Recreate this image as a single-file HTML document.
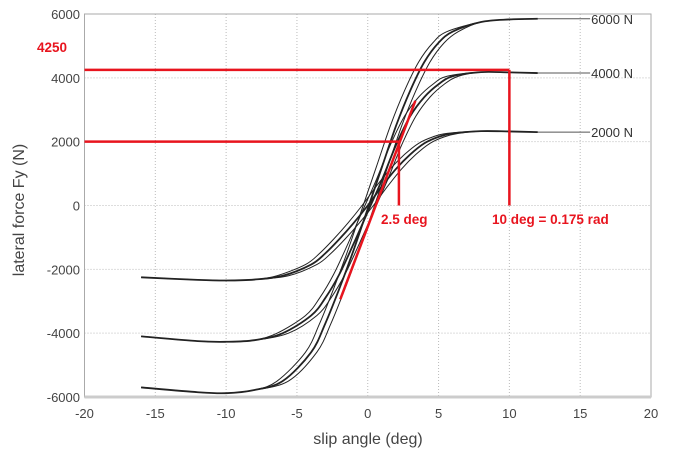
<!DOCTYPE html>
<html><head><meta charset="utf-8"><style>
body{margin:0;background:#fff;font-family:"Liberation Sans",Arial,sans-serif}
svg text{font-family:"Liberation Sans",Arial,sans-serif}
</style></head><body>
<svg id="chart" width="674" height="461" xmlns="http://www.w3.org/2000/svg"></svg>
<script>
const xTicks=[-20,-15,-10,-5,0,5,10,15,20];
const yTicks=[-6000,-4000,-2000,0,2000,4000,6000];
const slip=[-16,-12,-10,-8,-6,-4,-3,-2,-1,0,1,2,3,4,5,6,8,10,12];
const load2000=[-2250,-2330,-2350,-2320,-2200,-1850,-1500,-1050,-550,0,600,1150,1600,1950,2150,2260,2330,2320,2300];
const load4000=[-4100,-4250,-4270,-4220,-4000,-3450,-2900,-2150,-1200,-200,800,1900,2800,3400,3800,4050,4180,4170,4150];
const load6000=[-5700,-5850,-5880,-5780,-5500,-4600,-3700,-2600,-1400,-100,1200,2500,3600,4500,5100,5450,5750,5830,5850];
const seriesNames=['2000 N','4000 N','6000 N'];
const seriesData=[load2000,load4000,load6000];
const labelEnd=[15.7,15.7,15.7];
const peak=4250, knee=2000, kneeAngle=2.2, refAngle=10;
const slopeX=[-1.94,3.36], slopeY=[-2940,3280];

const NS='http://www.w3.org/2000/svg';
const svg=document.getElementById('chart');
const X0=84.5,X1=651,Y0=397,Y1=14;
const sx=v=>X0+(v+20)/40*(X1-X0);
const sy=v=>Y0-(v+6000)/12000*(Y0-Y1);
function mk(t,a,p){const e=document.createElementNS(NS,t);for(const k in a)e.setAttribute(k,a[k]);(p||svg).appendChild(e);return e;}

xTicks.forEach(t=>{
 const l=mk('line',{x1:sx(t),x2:sx(t),y1:Y1,y2:Y0,stroke:'#bbb','stroke-dasharray':'1,2','stroke-width':1});
 
 
 const tx=mk('text',{x:sx(t),y:418,'text-anchor':'middle','font-size':13,fill:'#444'});
 tx.textContent=t<0?'-'+Math.abs(t):t;
 
 
});
yTicks.forEach(t=>{
 const l=mk('line',{x1:X0,x2:X1,y1:sy(t),y2:sy(t),stroke:'#bbb','stroke-dasharray':'1,2','stroke-width':1});
 
 
 const tx=mk('text',{x:80,y:sy(t)+5,'text-anchor':'end','font-size':13,fill:'#444'});
 tx.textContent=t;
 
 
});
const frame=mk('rect',{x:X0,y:Y1,width:X1-X0,height:Y0-Y1,fill:'none',stroke:'#aaa','stroke-width':1});


const band=mk('line',{x1:X0,x2:X1,y1:Y0,y2:Y0,stroke:'#ccc','stroke-width':3});



function smooth(pts){
 let d='M'+pts[0][0]+','+pts[0][1];
 for(let i=0;i<pts.length-1;i++){
  const p0=pts[i-1]||pts[i],p1=pts[i],p2=pts[i+1],p3=pts[i+2]||p2;
  d+=' C'+(p1[0]+(p2[0]-p0[0])/6)+','+(p1[1]+(p2[1]-p0[1])/6)+' '+(p2[0]-(p3[0]-p1[0])/6)+','+(p2[1]-(p3[1]-p1[1])/6)+' '+p2[0]+','+p2[1];
 }
 return d;
}
seriesData.forEach((vals,si)=>{
 [-0.4,0,0.4].forEach((off,k)=>{
  const pts=slip.map((s,i)=>[sx(s+(Math.abs(s)<7?off:0)),sy(vals[i])]);
  const p=mk('path',{d:smooth(pts),fill:'none',stroke:'#222','stroke-width':k==1?1.8:1});
  
  
 });
 const last=vals[vals.length-1];
 const ext=mk('line',{x1:sx(slip[slip.length-1]),x2:sx(labelEnd[si]),y1:sy(last),y2:sy(last),stroke:'#555','stroke-width':1});
 
 
 const lb=mk('text',{x:sx(labelEnd[si])+1,y:sy(last)+5,'font-size':13,fill:'#333'});
 lb.textContent=seriesNames[si];
 
 
});

const red='#e8141e';
function rl(x1,y1,x2,y2,name){const l=mk('line',{x1,y1,x2,y2,stroke:red,'stroke-width':2.5});
 
 }
rl(sx(-20),sy(peak),sx(refAngle),sy(peak),'peak-force-line');
rl(sx(refAngle),sy(peak),sx(refAngle),sy(0),'ref-angle-line');
rl(sx(-20),sy(knee),sx(kneeAngle),sy(knee),'knee-force-line');
rl(sx(kneeAngle),sy(knee),sx(kneeAngle),sy(0),'knee-angle-line');
rl(sx(slopeX[0]),sy(slopeY[0]),sx(slopeX[1]),sy(slopeY[1]),'cornering-stiffness-line');
function rt(x,y,s,name){const t=mk('text',{x,y,'font-size':13.5,'font-weight':'bold',fill:red});t.textContent=s;
 
 }
rt(37,52,'4250','peak-value-label');
rt(381,224,'2.5 deg','knee-angle-label');
rt(492,224,'10 deg = 0.175 rad','ref-angle-label');

const xt=mk('text',{x:368,y:444,'text-anchor':'middle','font-size':16,fill:'#444'});
xt.textContent='slip angle (deg)';


const yt=mk('text',{x:0,y:0,'text-anchor':'middle','font-size':16,fill:'#444',transform:'translate(24,210) rotate(-90)'});
yt.textContent='lateral force Fy (N)';


</script>
</body></html>
